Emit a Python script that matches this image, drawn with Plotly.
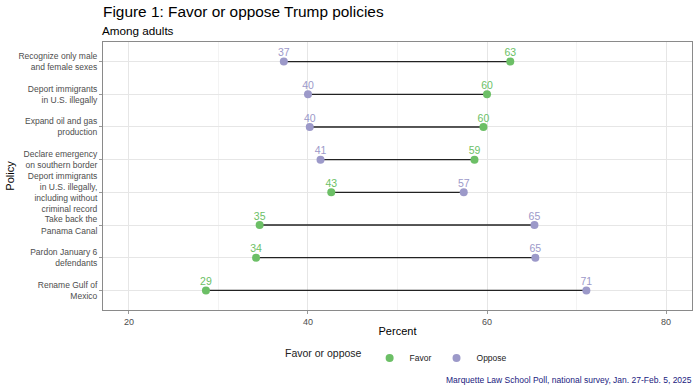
import plotly.graph_objects as go

policies = [
    "Recognize only male<br>and female sexes",
    "Deport immigrants<br>in U.S. illegally",
    "Expand oil and gas<br>production",
    "Declare emergency<br>on southern border",
    "Deport immigrants<br>in U.S. illegally,<br>including without<br>criminal record",
    "Take back the<br>Panama Canal",
    "Pardon January 6<br>defendants",
    "Rename Gulf of<br>Mexico",
]
favor = [62.6, 60.0, 59.6, 58.6, 42.6, 34.6, 34.2, 28.6]
oppose = [37.3, 40.0, 40.2, 41.4, 57.4, 65.3, 65.4, 71.1]

GREEN = "#6cbf66"
PURPLE = "#9c99c9"
FONT = "Liberation Sans, Arial, sans-serif"

pos = list(range(len(policies)))
label_pos = [p - 0.24 for p in pos]

fig = go.Figure()

seg_x, seg_y = [], []
for p, f, o in zip(pos, favor, oppose):
    seg_x += [f, o, None]
    seg_y += [p, p, None]
fig.add_trace(go.Scatter(x=seg_x, y=seg_y, mode="lines",
                         line=dict(color="#222222", width=1.3),
                         showlegend=False, hoverinfo="skip"))

for name, vals, col in [("Favor", favor, GREEN), ("Oppose", oppose, PURPLE)]:
    fig.add_trace(go.Scatter(
        x=vals, y=pos, mode="markers", name=name,
        marker=dict(color=col, size=8),
    ))
    fig.add_trace(go.Scatter(
        x=vals, y=label_pos, mode="text", showlegend=False, hoverinfo="skip",
        text=[f"{round(v)}" for v in vals],
        textposition="middle center",
        textfont=dict(color=col, size=10.5, family=FONT),
    ))

fig.update_layout(
    width=700, height=392,
    margin=dict(l=103, r=8, t=42, b=82, autoexpand=False),
    paper_bgcolor="white", plot_bgcolor="white",
    font=dict(family=FONT, color="#222222"),
    title=dict(text="Figure 1: Favor or oppose Trump policies",
               x=103 / 700, xref="container", xanchor="left",
               y=1 - 12 / 392, yref="container", yanchor="middle",
               font=dict(size=15.4, color="black")),
    showlegend=True,
    legend=dict(orientation="h", x=0.5, xanchor="center",
                y=(310 - 358) / 268, yanchor="middle",
                font=dict(size=8.5, color="#222"),
                title=dict(text="Favor or oppose", font=dict(size=10.5, color="#222"), side="left"),
                itemwidth=30),
)

fig.update_xaxes(
    range=[17.1, 82.9], tickvals=[20, 40, 60, 80],
    showgrid=True, gridcolor="#e6e6e6", gridwidth=1,
    minor=dict(tickvals=[30, 50, 70], showgrid=True, gridcolor="#f3f3f3", gridwidth=0.8),
    zeroline=False, ticks="outside", ticklen=3, tickcolor="#999",
    tickfont=dict(size=9, color="#4d4d4d"),
    title=dict(text="Percent", font=dict(size=11, color="black"), standoff=1),
    showline=True, linecolor="#8a8a8a", linewidth=1, mirror=True,
)
fig.update_yaxes(
    tickvals=pos, ticktext=policies,
    range=[7.6, -0.6],
    showgrid=True, gridcolor="#e6e6e6", gridwidth=1,
    zeroline=False, ticks="outside", ticklen=3, tickcolor="#999",
    tickfont=dict(size=8.5, color="#4d4d4d"),
    title=dict(text="Policy", font=dict(size=11, color="black"), standoff=1),
    showline=True, linecolor="#8a8a8a", linewidth=1, mirror=True,
)

fig.add_annotation(text="Among adults", xref="paper", yref="paper",
                   x=0, y=1 + (42 - 30) / 268, xanchor="left", yanchor="middle", xshift=-3,
                   showarrow=False, font=dict(size=11.7, color="black"))
fig.add_annotation(text="Marquette Law School Poll, national survey, Jan. 27-Feb. 5, 2025",
                   xref="paper", yref="paper", x=1, y=(310 - 380) / 268,
                   xanchor="right", yanchor="middle", xshift=2,
                   showarrow=False, font=dict(size=8.5, color="#1a1a80"))

fig.write_html("out.html", config={"displayModeBar": False},
               post_script="document.body.style.margin='0px';document.body.style.overflow='hidden';")
